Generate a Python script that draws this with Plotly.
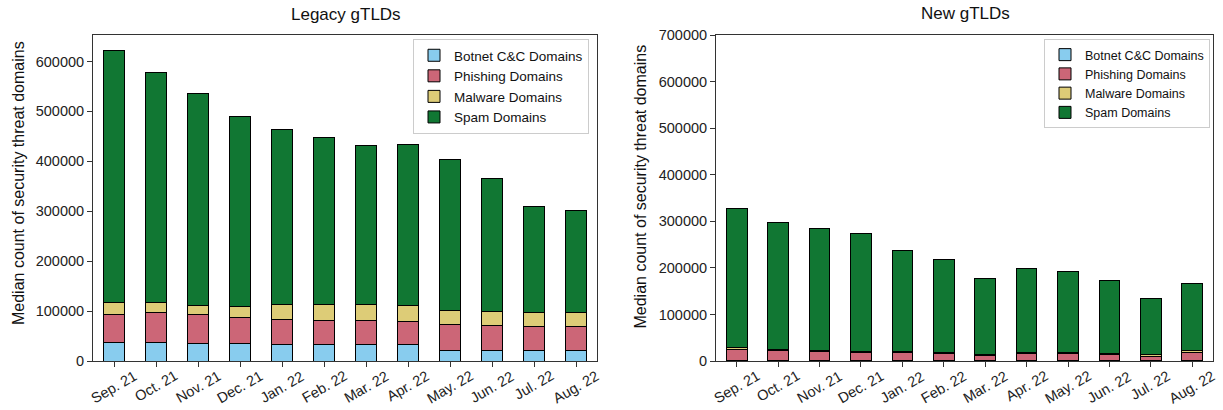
import plotly.graph_objects as go

months = ["Sep. 21", "Oct. 21", "Nov. 21", "Dec. 21", "Jan. 22", "Feb. 22",
          "Mar. 22", "Apr. 22", "May. 22", "Jun. 22", "Jul. 22", "Aug. 22"]

series_names = ["Botnet C&C Domains", "Phishing Domains", "Malware Domains", "Spam Domains"]
colors = ["#88CCEE", "#CC6677", "#DDCC77", "#117733"]

legacy_botnet = [37000, 37500, 36000, 35000, 34000, 34000, 34000, 34000, 22000, 22000, 22000, 21000]
legacy_phishing = [56000, 59500, 57000, 53000, 49000, 48000, 47000, 46000, 51000, 50000, 48000, 49000]
legacy_malware = [24000, 20000, 19000, 22000, 30000, 31000, 32000, 31000, 29000, 28000, 28000, 28000]
legacy_spam = [504000, 460000, 424000, 380000, 350000, 335000, 318000, 323000, 301000, 265000, 211000, 203000]

new_botnet = [2000, 2000, 2000, 2000, 2000, 2000, 2000, 2000, 2000, 2000, 2000, 2000]
new_phishing = [23000, 21000, 17500, 17000, 16000, 14500, 10000, 14000, 14000, 12000, 8500, 17000]
new_malware = [3500, 2000, 2000, 2000, 2000, 2500, 3000, 3000, 3000, 2500, 2500, 3000]
new_spam = [298500, 273000, 263500, 253000, 217000, 200000, 162000, 180000, 174000, 155500, 121000, 144000]

legacy_ticks = [0, 100000, 200000, 300000, 400000, 500000, 600000]
new_ticks = [0, 100000, 200000, 300000, 400000, 500000, 600000, 700000]

FONT = "Arial, Liberation Sans, sans-serif"
W, H = 1223, 410

fig = go.Figure()

legacy = [legacy_botnet, legacy_phishing, legacy_malware, legacy_spam]
new = [new_botnet, new_phishing, new_malware, new_spam]

for i, (name, col, vals) in enumerate(zip(series_names, colors, legacy)):
    fig.add_trace(go.Bar(x=months, y=vals, name=name, width=0.5,
                         marker=dict(color=col, line=dict(color="black", width=1)),
                         xaxis="x", yaxis="y", legend="legend", legendgroup=f"L{i}"))
for i, (name, col, vals) in enumerate(zip(series_names, colors, new)):
    fig.add_trace(go.Bar(x=months, y=vals, name=name, width=0.5,
                         marker=dict(color=col, line=dict(color="black", width=1)),
                         xaxis="x2", yaxis="y2", legend="legend2", legendgroup=f"N{i}"))

axis_common = dict(showline=True, linecolor="#333", linewidth=1, mirror=True,
                   ticks="outside", ticklen=5, tickcolor="#333", showgrid=False,
                   zeroline=False, automargin=False)

ytop = 1 - 35 / H
ybot = 1 - 361 / H

fig.update_layout(
    width=W, height=H, barmode="stack", bargap=0.5,
    plot_bgcolor="white", paper_bgcolor="white",
    margin=dict(l=0, r=0, t=0, b=0, autoexpand=False),
    font=dict(family=FONT, size=14.5, color="#222"),
    xaxis=dict(domain=[93 / W, 597 / W], type="category", range=[-0.5, 11.5],
               categoryorder="array", categoryarray=months,
               showticklabels=False, anchor="y", **axis_common),
    yaxis=dict(domain=[ybot, ytop], range=[0, 653000], tickvals=legacy_ticks,
               tickformat="d", anchor="x", tickfont=dict(size=14.5), **axis_common),
    xaxis2=dict(domain=[716 / W, 1213 / W], type="category", range=[-0.5, 11.5],
                categoryorder="array", categoryarray=months,
                showticklabels=False, anchor="y2", **axis_common),
    yaxis2=dict(domain=[ybot, ytop], range=[0, 700000], tickvals=new_ticks,
                tickformat="d", anchor="x2", tickfont=dict(size=14.5), **axis_common),
    legend=dict(x=589 / W, y=1 - 39 / H, xanchor="right", yanchor="top",
                bgcolor="white", bordercolor="#cccccc", borderwidth=1,
                traceorder="normal", tracegroupgap=3,
                font=dict(size=13.5, family=FONT, color="#111")),
    legend2=dict(x=1210 / W, y=1 - 39 / H, xanchor="right", yanchor="top",
                 bgcolor="white", bordercolor="#cccccc", borderwidth=1,
                 traceorder="normal", tracegroupgap=0,
                 font=dict(size=12.5, family=FONT, color="#111")),
)

annotations = []
for ax in ["x", "x2"]:
    for m in months:
        annotations.append(dict(x=m, xref=ax, y=1 - 365 / H, yref="paper",
                                text=m, showarrow=False, textangle=-30,
                                xanchor="center", yanchor="top",
                                font=dict(size=14.5, family=FONT, color="#222")))

annotations += [
    dict(x=346 / W, y=1 - 14 / H, xref="paper", yref="paper", text="Legacy gTLDs",
         showarrow=False, xanchor="center", yanchor="middle",
         font=dict(size=17, family=FONT, color="#111")),
    dict(x=965 / W, y=1 - 13 / H, xref="paper", yref="paper", text="New gTLDs",
         showarrow=False, xanchor="center", yanchor="middle",
         font=dict(size=17, family=FONT, color="#111")),
    dict(x=18.5 / W, y=1 - 183.5 / H, xref="paper", yref="paper",
         text="Median count of security threat domains", textangle=-90,
         showarrow=False, xanchor="center", yanchor="middle",
         font=dict(size=16, family=FONT, color="#111")),
    dict(x=640.5 / W, y=1 - 186 / H, xref="paper", yref="paper",
         text="Median count of security threat domains", textangle=-90,
         showarrow=False, xanchor="center", yanchor="middle",
         font=dict(size=16, family=FONT, color="#111")),
]
fig.update_layout(annotations=annotations)

fig.write_html("out.html", config={"displayModeBar": False},
               post_script="document.body.style.margin='0';document.body.style.padding='0';"
                           "document.body.style.overflow='hidden';")
